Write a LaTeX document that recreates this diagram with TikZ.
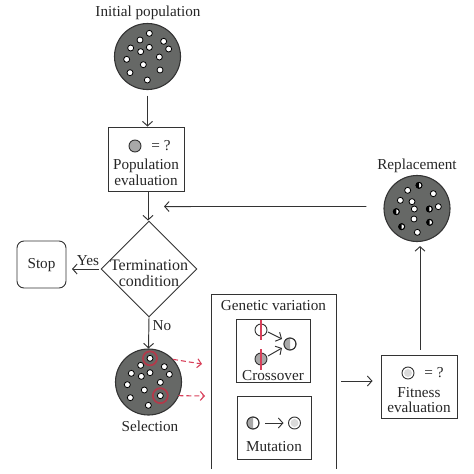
\documentclass[tikz,border=0pt]{standalone}
\usepackage{fontspec}
\setmainfont{Liberation Serif}
\usetikzlibrary{arrows.meta,shapes.geometric,calc}
\definecolor{popc}{HTML}{666866}
\definecolor{ln}{HTML}{333333}
\definecolor{indg}{HTML}{A8A8A8}
\definecolor{indl}{HTML}{DADADA}
\definecolor{redd}{HTML}{D8405A}
\definecolor{ringc}{HTML}{B23A4A}
\tikzset{
 x=1pt,y=-1pt,
 flow/.style={draw=ln,line width=.95pt,-{Straight Barb[length=4.5pt,width=10pt,line width=.95pt]}},
 dflow/.style={draw=redd,line width=1.1pt,dash pattern=on 5pt off 3pt,-{Straight Barb[length=4pt,width=9pt,line width=1.1pt]}},
 popn/.style={circle,draw=ln,line width=1.1pt,fill=popc,minimum size=66pt,inner sep=0pt},
 wbox/.style={rectangle,draw=ln,line width=.95pt,fill=white,inner sep=0pt},
 lab/.style={inner sep=0pt,align=center,font=\fontsize{15.2}{15.6}\selectfont,text=black!85},
 dot/.style={circle,draw=black,line width=.8pt,fill=white,minimum size=6pt,inner sep=0pt},
 indv/.style={circle,draw=ln,line width=.95pt,minimum size=12pt,inner sep=0pt},
 ring/.style={circle,draw=ringc,line width=1.8pt,fill=none,minimum size=#1,inner sep=0pt},
}
\newcommand{\hdot}[2]{\fill[black] (#1,#2) ++(0,-3) arc[start angle=90,end angle=270,radius=3pt] -- cycle;
 \draw[black,line width=.8pt] (#1,#2) circle[radius=3pt];}
\newcommand{\hind}[3]{\fill[#3] (#1,#2) ++(0,-6) arc[start angle=90,end angle=270,radius=6pt] -- cycle;}
\begin{document}
\begin{tikzpicture}
\useasboundingbox (0,0) rectangle (474,474);
% Initial population
\node[lab] (tinit) at (148,13) {Initial population};
\node[popn] (init) at (147.5,56.5) {};
\foreach \i/\a/\b in {1/178/100,2/150/120,3/221/124,4/122/144,5/152/155,6/178/142,7/236/147,8/208/171,9/110/178,10/160/194,11/210/210,12/120/218,13/172/240}
  \node[dot] (ia\i) at ({90+\a/3},{\b/3}) {};
% Population evaluation
\node[wbox,minimum width=76pt,minimum height=64pt] (pe) at (146,159) {};
\node[indv,fill=indg] (pec) at (135,146) {};
\node[lab] (peq) at (161,145.5) {= ?};
\node[lab] (pet) at (146,172) {Population\\evaluation};
% Termination
\node[diamond,draw=ln,line width=.95pt,minimum width=96pt,minimum height=96pt,inner sep=0pt,aspect=1] (term) at (149,269) {};
\node[lab,font=\fontsize{16}{15.6}\selectfont] (termt) at (149,273) {Termination\\condition};
% Stop
\node[rectangle,rounded corners=7pt,draw=ln,line width=.95pt,minimum width=49pt,minimum height=47pt,inner sep=0pt] (stop) at (41.5,264.5) {};
\node[lab] (stopt) at (41.5,265) {Stop};
\node[lab] (yes) at (88,261) {Yes};
\node[lab] (no) at (162,326) {No};
% Selection
\node[popn] (sel) at (148.5,382) {};
\foreach \i/\a/\b in {1/150/85,2/122/106,3/193/110,4/94/130,5/124/139,6/150/128,7/208/133,8/181/157,9/82/164,10/133/180,11/181/197,12/91/203,13/145/226}
  \node[dot] (sa\i) at ({100+\a/3},{330+\b/3}) {};
\node[ring=14pt] (r1) at (sa1) {};
\node[ring=15pt] (r2) at (sa11) {};
\coordinate (d1) at (202,364);
\coordinate (d2) at (205,396);
\draw[dflow] ($(r1)+(23,1)$) -- (d1);
\draw[dflow] ($(r2)+(18,0)$) -- (d2);
\node[lab] (selt) at (150,426) {Selection};
% Genetic variation
\coordinate (g1) at (211,469); \coordinate (g2) at (211,294);
\coordinate (g3) at (336,294); \coordinate (g4) at (336,469);
\draw[ln,line width=.95pt] (g1) -- (g2) -- (g3) -- (g4);
\node[lab] (gv) at (273.5,306) {Genetic variation};
% Crossover
\node[wbox,minimum width=74pt,minimum height=63pt] (cb) at (273,350.5) {};
\coordinate (ra) at (261,320); \coordinate (rb) at (261,340);
\coordinate (rc) at (261,349); \coordinate (rd) at (261,370);
\node[indv,fill=white] (c1) at (261,330) {};
\node[indv,fill=indg] (c2) at (261,359) {};
\node[indv,fill=white] (c3) at (290,344) {};
\hind{290}{344}{indg}
\draw[ln,line width=.95pt] (c3.center) circle[radius=6pt];
\draw[redd,line width=1.2pt] (ra) -- (rb) (rc) -- (rd);
\draw[flow] (c1) ++(7,2) -- ($(c3)+(-8,-5)$);
\draw[flow] (c2) ++(7,-3) -- ($(c3)+(-8,4)$);
\node[lab] (ct) at (273,376) {Crossover};
% Mutation
\node[wbox,minimum width=74pt,minimum height=63pt] (mb) at (274,427.5) {};
\node[indv,fill=white] (m1) at (253,423) {};
\hind{253}{423}{indg}
\draw[ln,line width=.95pt] (m1.center) circle[radius=6pt];
\node[indv,fill=white] (m2) at (294.5,423) {};
\fill[indl] (294.5,423) circle[radius=4pt];
\draw[flow] (m1) ++(12,0) -- ($(m2)+(-11,0)$);
\node[lab] (mt) at (274,447) {Mutation};
% Fitness
\coordinate (gout) at (341,381);
\node[wbox,minimum width=76pt,minimum height=63pt] (fe) at (419,386.5) {};
\node[indv,fill=white] (fc) at (408,373) {};
\fill[indl] (408,373) circle[radius=4pt];
\node[lab] (feq) at (434,372.5) {= ?};
\node[lab] (fet) at (419,400) {Fitness\\evaluation};
% Replacement
\node[lab] (rt) at (417,166) {Replacement};
\node[popn] (rep) at (417,208.5) {};
\foreach \i/\a/\b in {1/203/151,2/280/161,3/181/181,4/216/185,5/295/200,6/223/207,7/222/237,8/232/277}
  \node[dot] (rw\i) at ({340+\a/3},{140+\b/3}) {};
\foreach \a/\b in {237/136,268/207,169/215,269/247,185/260}
  {\node[dot] at ({340+\a/3},{140+\b/3}) {}; \hdot{{340+\a/3}}{{140+\b/3}}}
% Connectors
\draw[flow] (init) ++(0,39) -- (pe.north -| init);
\draw[flow] (148,191) -- (term.north -| 148,0);
\draw[flow] (term.west) ++(-2,0) -- (72,269);
\draw[flow] (term.south) -- (sel.north);
\draw[flow] (gout) -- ($(fe.west)+(-8,-5.5)$);
\draw[flow] (fe.north -| rep) ++(3,-5) -- ($(rep.south)+(3,4)$);
\draw[flow] ($(rep.west)+(-17,-2)$) -- ($(term.north)+(15,-14)$);
\end{tikzpicture}
\end{document}
